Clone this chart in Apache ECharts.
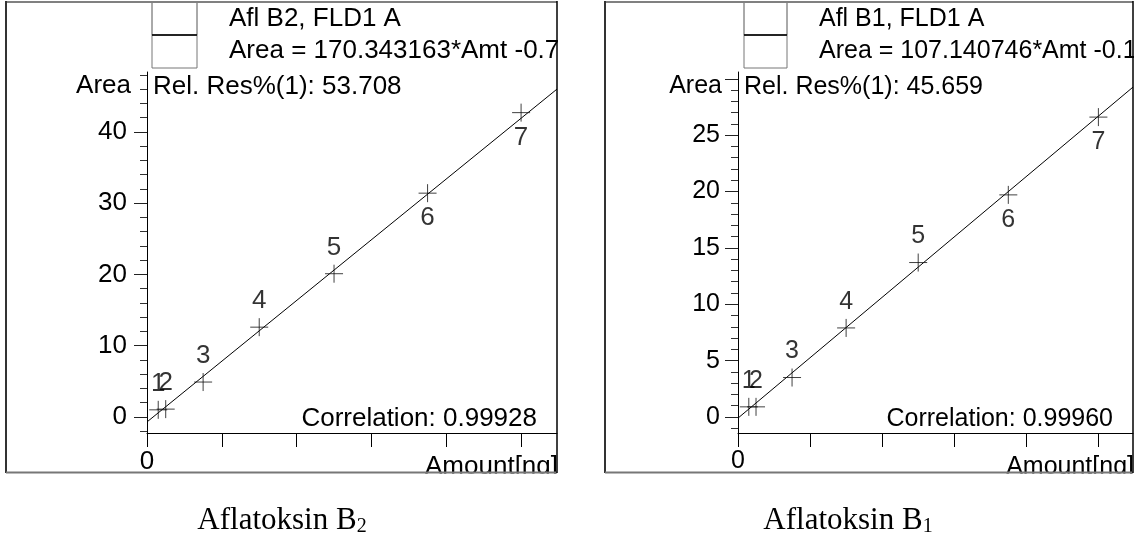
<!DOCTYPE html>
<html>
<head>
<meta charset="utf-8">
<script src="https://cdn.jsdelivr.net/npm/echarts@6/dist/echarts.min.js"></script>
<style>
  html, body { margin: 0; padding: 0; background: #fff; }
  #chart { width: 1148px; height: 540px; }
</style>
</head>
<body>
<div id="chart"></div>
<script>
// calibration data
const amounts = [0.0075, 0.0125, 0.0375, 0.075, 0.125, 0.1875, 0.25];
const areasB2 = [1.0, 1.1, 4.9, 12.6, 20.1, 31.4, 42.7];
const areasB1 = [0.9, 0.9, 3.5, 7.9, 13.7, 19.7, 26.6];
const pointNames = ['1', '2', '3', '4', '5', '6', '7'];
const fitB2 = [[0, -0.7], [0.274, 46.0]];
const fitB1 = [[0, -0.1], [0.274, 29.26]];

const xTicks = [0, 0.05, 0.1, 0.15, 0.2, 0.25];
const xLabels = [0];
const yMajorB2 = [0, 10, 20, 30, 40];
const yMinorB2 = [-2, 2, 4, 6, 8, 12, 14, 16, 18, 22, 24, 26, 28, 32, 34, 36, 38, 42, 44, 46, 48];
const yMajorB1 = [0, 5, 10, 15, 20, 25, 30];
const yLabelsB1 = [0, 5, 10, 15, 20, 25];
const yMinorB1 = [-1, 1, 2, 3, 4, 6, 7, 8, 9, 11, 12, 13, 14, 16, 17, 18, 19, 21, 22, 23, 24, 26, 27, 28, 29];

const textsB2 = {
    compound: 'Afl B2, FLD1 A',
    equation: 'Area = 170.343163*Amt -0.7',
    relres: 'Rel. Res%(1): 53.708',
    corr: 'Correlation: 0.99928',
    sub: '2'
};
const textsB1 = {
    compound: 'Afl B1, FLD1 A',
    equation: 'Area = 107.140746*Amt -0.1',
    relres: 'Rel. Res%(1): 45.659',
    corr: 'Correlation: 0.99960',
    sub: '1'
};

const SANS = '"Liberation Sans", Arial, sans-serif';
const SERIF = '"Liberation Serif", "Times New Roman", serif';
const FS_L = 26;
const FS_R = 25;

let chart = echarts.init(document.getElementById('chart'));

function xAxisFor(idx, fs) {
    return {
        type: 'value', gridIndex: idx, min: 0, max: 0.274, position: 'bottom',
        axisLine: { onZero: false, lineStyle: { color: '#000', width: 1 } },
        axisTick: { customValues: xTicks, length: 14, lineStyle: { color: '#000' } },
        axisLabel: { customValues: xLabels, margin: 16, fontSize: fs, fontFamily: SANS, color: '#000',
            formatter: v => String(v) },
        splitLine: { show: false }
    };
}

function yAxesFor(idx, min, max, major, labels, minor, margin, fs) {
    return [{
        type: 'value', gridIndex: idx, min: min, max: max, position: 'left',
        axisLine: { show: true, onZero: false, lineStyle: { color: '#000', width: 1 } },
        axisTick: { customValues: major, length: 13, lineStyle: { color: '#222' } },
        axisLabel: { customValues: labels, margin: margin, fontSize: fs, fontFamily: SANS, color: '#000' },
        splitLine: { show: false }
    }, {
        type: 'value', gridIndex: idx, min: min, max: max, position: 'left',
        axisLine: { show: false, onZero: false },
        axisTick: { customValues: minor, length: 7, lineStyle: { color: '#333' } },
        axisLabel: { show: false },
        splitLine: { show: false }
    }];
}

function pointSeries(xi, yi, areas, fs) {
    return {
        type: 'scatter', xAxisIndex: xi, yAxisIndex: yi,
        symbol: 'path://M0,9H18M9,0V18', symbolSize: 18,
        itemStyle: { color: 'none', borderColor: '#111', borderWidth: 1 },
        label: {
            show: true, position: 'inside', fontSize: fs, fontFamily: SANS, color: '#000',
            formatter: p => pointNames[p.dataIndex]
        },
        data: amounts.map((a, i) => ({
            value: [a, areas[i]],
            label: { offset: [0, i >= 5 ? 25 : -26] }
        })),
        z: 5
    };
}

function fitSeries(xi, yi, fit) {
    return {
        type: 'line', xAxisIndex: xi, yAxisIndex: yi, data: fit,
        showSymbol: false, lineStyle: { color: '#000', width: 1 }, z: 3
    };
}

function decor(p, t) {
    // p: frame and text anchors for one panel
    const txt = (s, x, y, align) => ({
        type: 'text', z: 10,
        style: { text: s, x: x, y: y, align: align, verticalAlign: 'middle',
            font: p.fs + 'px ' + SANS, fill: '#000' }
    });
    const line = (x1, y1, x2, y2, color, w) => ({
        type: 'line', z: 30, shape: { x1: x1, y1: y1, x2: x2, y2: y2 },
        style: { stroke: color, lineWidth: w }
    });
    const mask = (x, y, w, h) => ({ type: 'rect', z: 20, shape: { x: x, y: y, width: w, height: h },
        style: { fill: '#fff' } });
    return [
        txt(t.compound, p.textX, 19, 'left'),
        txt(t.equation, p.textX, 51, 'left'),
        txt('Area', p.axisX - 16, 86, 'right'),
        txt(t.relres, p.axisX + 6, 87, 'left'),
        txt(t.corr, p.corrX, 419, 'right'),
        txt('Amount[ng]', p.right + 1, 467, 'right'),
        mask(p.right + 1, 36, p.maskW, 31),
        mask(p.right - 150, 473.5, 160, 18),
        // legend boxes
        { type: 'rect', z: 25, shape: { x: p.boxX, y: 2, width: p.boxW, height: 33 },
          style: { fill: 'none', stroke: '#555', lineWidth: 1 } },
        { type: 'rect', z: 25, shape: { x: p.boxX, y: 35, width: p.boxW, height: 33 },
          style: { fill: 'none', stroke: '#777', lineWidth: 1 } },
        line(p.boxX, 35, p.boxX + p.boxW, 35, '#000', 1.5),
        // frame
        line(p.left, 2, p.right, 2, '#808080', 2),
        line(p.left, 1, p.left, 473, '#333', 2),
        line(p.left, 472.5, p.right, 472.5, '#777', 2),
        line(p.right, 1, p.right, 473, '#000', 1.5),
        // caption
        {
            type: 'text', z: 10,
            style: {
                text: '{a|Aflatoksin B}{s|' + t.sub + '}', x: p.capX, y: 521,
                align: 'center', verticalAlign: 'middle',
                rich: {
                    a: { fontSize: 31, lineHeight: 32, fontFamily: SERIF, color: '#000' },
                    s: { fontSize: 20, lineHeight: 20, verticalAlign: 'bottom', fontFamily: SERIF, color: '#000' }
                }
            }
        }
    ];
}

const option = {
    backgroundColor: '#fff',
    animation: false,
    grid: [
        { left: 147, top: 72, width: 410, height: 361 },
        { left: 738, top: 72, width: 395, height: 361 }
    ],
    xAxis: [xAxisFor(0, FS_L), xAxisFor(1, FS_R)],
    yAxis: [].concat(
        yAxesFor(0, -2.25, 48.4, yMajorB2, yMajorB2, yMinorB2, 20, FS_L),
        yAxesFor(1, -1.42, 30.6, yMajorB1, yLabelsB1, yMinorB1, 18, FS_R)
    ),
    series: [
        fitSeries(0, 0, fitB2),
        pointSeries(0, 0, areasB2, FS_L),
        fitSeries(1, 2, fitB1),
        pointSeries(1, 2, areasB1, FS_R)
    ],
    graphic: [].concat(
        decor({ left: 6, right: 557, axisX: 147, textX: 229, boxX: 152, boxW: 45, corrX: 537, maskW: 46, capX: 282, fs: FS_L }, textsB2),
        decor({ left: 605, right: 1133, axisX: 738, textX: 819, boxX: 744, boxW: 43, corrX: 1113, maskW: 15, capX: 848, fs: FS_R }, textsB1)
    )
};

chart.setOption(option);
</script>
</body>
</html>
